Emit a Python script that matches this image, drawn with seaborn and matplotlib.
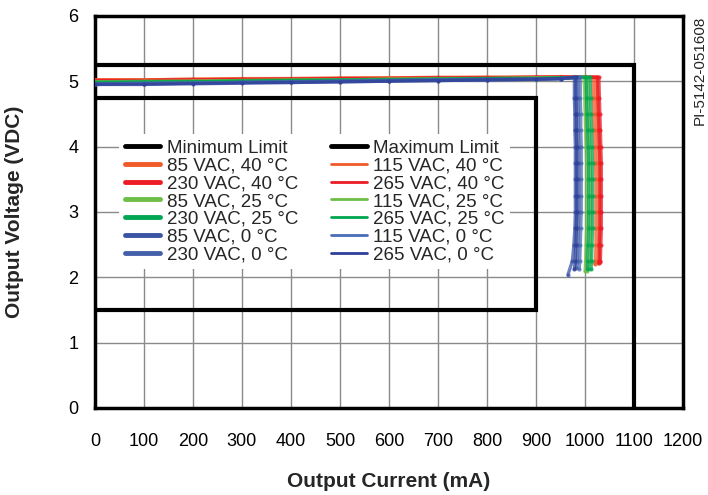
import matplotlib
matplotlib.use("Agg")
import matplotlib.pyplot as plt
import seaborn as sns
import pandas as pd
from matplotlib.lines import Line2D

sns.set_theme(style="white")
plt.rcParams['font.family'] = ['Liberation Sans', 'DejaVu Sans']

# ---------------- data ----------------
x_ticks = [0, 100, 200, 300, 400, 500, 600, 700, 800, 900, 1000, 1100, 1200]
y_ticks = [0, 1, 2, 3, 4, 5, 6]

min_limit_x = [0, 900, 900, 0]
min_limit_y = [4.75, 4.75, 1.5, 1.5]
max_limit_x = [0, 1100, 1100]
max_limit_y = [5.25, 5.25, 0]

flat_current = [0, 100, 200, 300, 400, 500, 600, 700, 800, 900, 950]
fold_voltage = [5.06, 4.75, 4.5, 4.25, 4.0, 3.75, 3.5, 3.25, 3.0, 2.75, 2.5, 2.25]

series_names = ["85 VAC, 40 °C", "230 VAC, 40 °C", "85 VAC, 25 °C", "230 VAC, 25 °C",
                "85 VAC, 0 °C", "230 VAC, 0 °C",
                "115 VAC, 40 °C", "265 VAC, 40 °C", "115 VAC, 25 °C", "265 VAC, 25 °C",
                "115 VAC, 0 °C", "265 VAC, 0 °C"]

flat_v = {
    "85 VAC, 40 °C":  [5.02, 5.02, 5.03, 5.03, 5.04, 5.04, 5.05, 5.05, 5.06, 5.06, 5.06],
    "230 VAC, 40 °C": [5.01, 5.01, 5.02, 5.03, 5.03, 5.04, 5.04, 5.05, 5.05, 5.06, 5.06],
    "85 VAC, 25 °C":  [4.99, 4.99, 5.00, 5.01, 5.01, 5.02, 5.03, 5.03, 5.04, 5.05, 5.05],
    "230 VAC, 25 °C": [4.98, 4.99, 4.99, 5.00, 5.01, 5.02, 5.02, 5.03, 5.04, 5.04, 5.05],
    "85 VAC, 0 °C":   [4.96, 4.96, 4.97, 4.98, 4.99, 5.00, 5.01, 5.02, 5.03, 5.03, 5.04],
    "230 VAC, 0 °C":  [4.95, 4.96, 4.97, 4.98, 4.98, 4.99, 5.00, 5.01, 5.02, 5.03, 5.04],
    "115 VAC, 40 °C": [5.02, 5.02, 5.03, 5.04, 5.04, 5.05, 5.05, 5.06, 5.06, 5.06, 5.07],
    "265 VAC, 40 °C": [5.01, 5.01, 5.02, 5.02, 5.03, 5.04, 5.04, 5.05, 5.05, 5.06, 5.06],
    "115 VAC, 25 °C": [4.99, 5.00, 5.00, 5.01, 5.02, 5.02, 5.03, 5.04, 5.04, 5.05, 5.05],
    "265 VAC, 25 °C": [4.98, 4.98, 4.99, 5.00, 5.01, 5.01, 5.02, 5.03, 5.04, 5.04, 5.05],
    "115 VAC, 0 °C":  [4.96, 4.97, 4.97, 4.98, 4.99, 5.00, 5.01, 5.02, 5.02, 5.03, 5.04],
    "265 VAC, 0 °C":  [4.95, 4.95, 4.96, 4.97, 4.98, 4.99, 5.00, 5.01, 5.02, 5.03, 5.04],
}

fold_i = {
    "85 VAC, 40 °C":  [1022, 1023, 1024, 1025, 1026, 1027, 1028, 1028, 1028, 1028, 1028, 1027],
    "230 VAC, 40 °C": [1028, 1029, 1030, 1031, 1032, 1033, 1033, 1033, 1033, 1033, 1032, 1031],
    "85 VAC, 25 °C":  [1005, 1006, 1007, 1008, 1009, 1010, 1011, 1011, 1011, 1011, 1010, 1010],
    "230 VAC, 25 °C": [1010, 1011, 1012, 1013, 1014, 1015, 1015, 1015, 1015, 1015, 1014, 1013],
    "85 VAC, 0 °C":   [978, 978, 979, 979, 980, 980, 980, 980, 980, 979, 977, 974],
    "230 VAC, 0 °C":  [985, 985, 986, 986, 987, 987, 987, 987, 987, 986, 985, 984],
    "115 VAC, 40 °C": [1016, 1017, 1018, 1019, 1020, 1021, 1022, 1022, 1022, 1022, 1022, 1021],
    "265 VAC, 40 °C": [1025, 1026, 1027, 1028, 1029, 1030, 1030, 1030, 1030, 1030, 1029, 1029],
    "115 VAC, 25 °C": [998, 999, 1000, 1001, 1002, 1003, 1003, 1003, 1003, 1003, 1002, 1001],
    "265 VAC, 25 °C": [1002, 1003, 1004, 1005, 1006, 1007, 1007, 1007, 1007, 1007, 1006, 1005],
    "115 VAC, 0 °C":  [990, 990, 991, 991, 992, 992, 992, 992, 992, 991, 990, 989],
    "265 VAC, 0 °C":  [981, 981, 982, 982, 983, 983, 983, 983, 983, 982, 981, 980],
}

end_point = {
    "85 VAC, 40 °C":  (1026, 2.22),
    "230 VAC, 40 °C": (1031, 2.23),
    "85 VAC, 25 °C":  (1004, 2.10),
    "230 VAC, 25 °C": (1012, 2.12),
    "85 VAC, 0 °C":   (965, 2.04),
    "230 VAC, 0 °C":  (982, 2.14),
    "115 VAC, 40 °C": (1020, 2.20),
    "265 VAC, 40 °C": (1028, 2.22),
    "115 VAC, 25 °C": (1000, 2.10),
    "265 VAC, 25 °C": (1005, 2.12),
    "115 VAC, 0 °C":  (988, 2.13),
    "265 VAC, 0 °C":  (978, 2.12),
}

colors = {
    "85 VAC, 40 °C": "#F15A29", "115 VAC, 40 °C": "#F15A29",
    "230 VAC, 40 °C": "#ED1C24", "265 VAC, 40 °C": "#ED1C24",
    "85 VAC, 25 °C": "#6DBE45", "115 VAC, 25 °C": "#6DBE45",
    "230 VAC, 25 °C": "#00A651", "265 VAC, 25 °C": "#00A651",
    "85 VAC, 0 °C": "#3A54A4", "115 VAC, 0 °C": "#4A6DB5",
    "230 VAC, 0 °C": "#4560AA", "265 VAC, 0 °C": "#2E3F98",
}

# ---------------- build long table ----------------
rows = []
for name in series_names:
    order = 0
    for i, v in zip(flat_current, flat_v[name]):
        rows.append((name, order, i, v)); order += 1
    for i, v in zip(fold_i[name], fold_voltage):
        rows.append((name, order, i, v)); order += 1
    ei, ev = end_point[name]
    rows.append((name, order, ei, ev))
df = pd.DataFrame(rows, columns=["series", "order", "current", "voltage"])

# ---------------- plot ----------------
fig = plt.figure(figsize=(7.08, 4.95), dpi=100)
ax = fig.add_axes([0.134, 0.176, 0.831, 0.792])

draw_order = ["85 VAC, 40 °C", "115 VAC, 40 °C", "230 VAC, 40 °C", "265 VAC, 40 °C",
              "85 VAC, 25 °C", "115 VAC, 25 °C", "230 VAC, 25 °C", "265 VAC, 25 °C",
              "85 VAC, 0 °C", "115 VAC, 0 °C", "230 VAC, 0 °C", "265 VAC, 0 °C"]
for name in draw_order:
    sub = df[df.series == name].sort_values("order")
    sns.lineplot(data=sub, x="current", y="voltage", sort=False, estimator=None,
                 color=colors[name], lw=2.4, alpha=0.75, marker="o", markersize=3,
                 markeredgewidth=0, ax=ax, legend=False, zorder=3)

ax.plot(min_limit_x, min_limit_y, color="black", lw=3, zorder=4, solid_joinstyle="miter")
ax.plot(max_limit_x, max_limit_y, color="black", lw=3, zorder=4, solid_joinstyle="miter")

ax.set_xlim(0, 1200)
ax.set_ylim(0, 6)
ax.set_xticks(x_ticks)
ax.set_yticks(y_ticks)
ax.set_xticklabels([str(t) for t in x_ticks])
ax.set_yticklabels([str(t) for t in y_ticks])
ax.grid(True, color="#8a8a8a", lw=1.0)
ax.set_axisbelow(True)
ax.tick_params(axis="x", length=0, pad=18, labelsize=13, colors="black")
ax.tick_params(axis="y", length=0, pad=12, labelsize=13, colors="black")
for s in ax.spines.values():
    s.set_color("black")
    s.set_linewidth(2.5)
    s.set_visible(True)

ax.set_xlabel("Output Current (mA)", fontsize=15, fontweight="bold", labelpad=16)
ax.set_ylabel("Output Voltage (VDC)", fontsize=15, fontweight="bold", labelpad=32)

fig.text(0.988, 0.968, "PI-5142-051608", rotation=90, ha="center", va="top", fontsize=11)

# legend
col1 = ["Minimum Limit", "85 VAC, 40 °C", "230 VAC, 40 °C", "85 VAC, 25 °C",
        "230 VAC, 25 °C", "85 VAC, 0 °C", "230 VAC, 0 °C"]
col2 = ["Maximum Limit", "115 VAC, 40 °C", "265 VAC, 40 °C", "115 VAC, 25 °C",
        "265 VAC, 25 °C", "115 VAC, 0 °C", "265 VAC, 0 °C"]
handles, labels = [], []
for lab in col1:
    c = "black" if "Limit" in lab else colors[lab]
    handles.append(Line2D([], [], color=c, lw=3.5)); labels.append(lab)
for lab in col2:
    c = "black" if "Limit" in lab else colors[lab]
    handles.append(Line2D([], [], color=c, lw=3.5 if "Limit" in lab else 2)); labels.append(lab)
leg = ax.legend(handles, labels, ncol=2, loc="upper left", bbox_to_anchor=(0.025, 0.722),
                frameon=True, fontsize=13.5, handlelength=1.9, handletextpad=0.35,
                columnspacing=1.75, labelspacing=0.03, borderpad=0.3)
leg.get_frame().set_facecolor("white")
leg.get_frame().set_edgecolor("none")
leg.get_frame().set_alpha(1)
leg.set_zorder(5)

fig.savefig("out.png", dpi=100, facecolor="white")
